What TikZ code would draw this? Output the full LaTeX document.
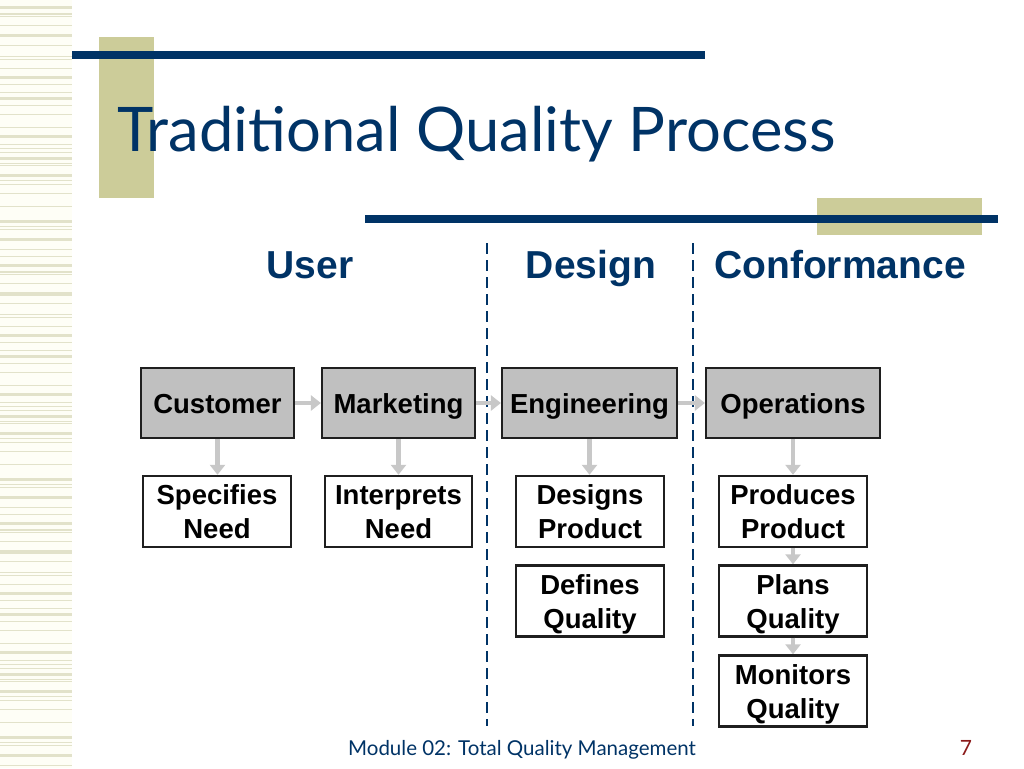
\documentclass[tikz,border=0pt]{standalone}
\usepackage{fontspec}
\setmainfont{Liberation Sans}
\newfontfamily\titlefont{Lato}
\usetikzlibrary{arrows.meta}
\definecolor{navy}{HTML}{003366}
\definecolor{beige}{HTML}{CCCC99}
\definecolor{stripe}{HTML}{E2E2CA}
\definecolor{cream}{HTML}{FEFEF6}
\definecolor{boxgray}{HTML}{C0C0C0}
\definecolor{arrgray}{HTML}{C8C8C8}
\definecolor{pagered}{HTML}{8B1A1A}
\tikzset{
  graybox/.style={draw=black!88, line width=2.2pt, fill=boxgray, minimum height=70pt, inner sep=0pt, text height=20pt, text depth=0pt, font=\fontsize{27.5}{30}\selectfont\bfseries},
  whitebox/.style={draw=black!88, line width=2.4pt, fill=white, minimum width=148pt, minimum height=71pt, inner sep=0pt, align=center, font=\fontsize{27.5}{34}\selectfont\bfseries},
  flowarrow/.style={draw=arrgray, line width=4.5pt, -{Triangle[width=15pt,length=10pt]}},
  heading/.style={text=navy, font=\fontsize{39}{42}\selectfont\bfseries, anchor=base, inner sep=0pt},
  divider/.style={draw=navy, line width=2.8pt, dash pattern=on 11pt off 6pt},
}
\newcommand\tl[1]{\raisebox{0pt}[20pt][0pt]{#1}}
\begin{document}
\begin{tikzpicture}[x=1pt,y=-1pt]
\useasboundingbox (0,0) rectangle (1024,768);
\fill[white] (0,0) rectangle (1024,768);
% left stripe panel
\fill[cream] (0,0) rectangle (72,768);
\foreach \yy/\hh in {6/3,13/2,16/1,25/1,34/3.5,45/1,56/1,59/1,68/1,76/2.5,84/1,92/1,97/3,105/1,114/1,127/1,135/2.5,144/1,148/1,152/1,157/3,163/1,165/1,174/3,180/1,184/1,193/1,206/1,220/3,226/1,229/1,238/3,249/1,256/1}{
  \fill[stripe] (0,\yy) rectangle (72,\yy+\hh);
  \fill[stripe] (0,\yy+258) rectangle (72,\yy+258+\hh);
  \fill[stripe] (0,\yy+516) rectangle (72,\yy+516+\hh);
}
% title decoration
\fill[beige] (99,37) rectangle (154,198);
\fill[navy] (72,51) rectangle (705,59);
\fill[beige] (817,198) rectangle (982,235);
\fill[navy] (365,215) rectangle (998,223);
\node[anchor=base west, inner sep=0pt, text=navy, font=\titlefont\fontsize{61.5}{66}\selectfont] (title) at (117,151) {Traditional Quality Process};
% headings
\node[heading] (user) at (310,278) {User};
\node[heading] (design) at (591,278) {Design};
\node[heading] (conf) at (840,278) {Conformance};
% dividers
\coordinate (d1a) at (487,243); \coordinate (d1b) at (487,726);
\coordinate (d2a) at (693,243); \coordinate (d2b) at (693,726);
\draw[divider] (d1a) -- (d1b);
\draw[divider] (d2a) -- (d2b);
% gray boxes
\node[graybox, minimum width=153pt] (customer) at (217.5,403) {Customer};
\node[graybox, minimum width=153pt] (marketing) at (398.5,403) {Marketing};
\node[graybox, minimum width=175pt] (engineering) at (589.5,403) {Engineering};
\node[graybox, minimum width=174pt] (operations) at (793,403) {Operations};
% white boxes
\node[whitebox] (specifies) at (217,511.5) {\tl{Specifies}\\\tl{Need}};
\node[whitebox, minimum width=147pt] (interprets) at (398.5,511.5) {\tl{Interprets}\\\tl{Need}};
\node[whitebox] (designs) at (590,511.5) {\tl{Designs}\\\tl{Product}};
\node[whitebox] (defines) at (590,601) {\tl{Defines}\\\tl{Quality}};
\node[whitebox] (produces) at (793,511.5) {\tl{Produces}\\\tl{Product}};
\node[whitebox] (plans) at (793,601) {\tl{Plans}\\\tl{Quality}};
\node[whitebox] (monitors) at (793,691) {\tl{Monitors}\\\tl{Quality}};
% arrows
\draw[flowarrow] (customer.east) -- (marketing.west);
\draw[flowarrow] (marketing.east) -- (engineering.west);
\draw[flowarrow] (engineering.east) -- (operations.west);
\draw[flowarrow] (customer.south) -- (specifies.north -| customer.south);
\draw[flowarrow] (marketing.south) -- (interprets.north -| marketing.south);
\draw[flowarrow] (engineering.south) -- (designs.north -| engineering.south);
\draw[flowarrow] (operations.south) -- (produces.north -| operations.south);
\draw[flowarrow] (produces.south) -- (plans.north);
\draw[flowarrow] (plans.south) -- (monitors.north);
% footer
\node[anchor=base, inner sep=0pt, text=navy, font=\titlefont\fontsize{20.5}{22}\selectfont] (footer) at (522,755) {Module 02: Total Quality Management};
\node[anchor=base, inner sep=0pt, text=pagered, font=\titlefont\fontsize{21}{22}\selectfont] (pagenum) at (966,755) {7};
\end{tikzpicture}
\end{document}
